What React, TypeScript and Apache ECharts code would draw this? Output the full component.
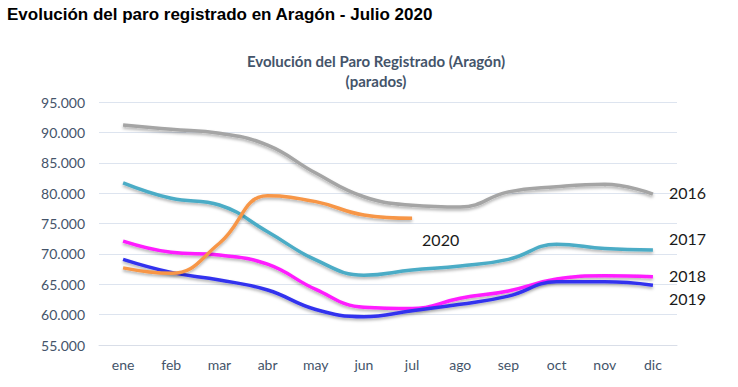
import React, { useEffect, useRef } from "react";
import * as echarts from "echarts";

const months = ["ene", "feb", "mar", "abr", "may", "jun", "jul", "ago", "sep", "oct", "nov", "dic"];
const y2016 = [91200, 90500, 89850, 87900, 83300, 79400, 78000, 77700, 80200, 81050, 81450, 79850];
const y2017 = [81700, 79150, 78050, 73650, 69000, 66500, 67350, 68000, 69100, 71600, 70900, 70650];
const y2018 = [72100, 70250, 69800, 68300, 64150, 61200, 61000, 62700, 63900, 65850, 66400, 66250];
const y2019 = [69100, 66950, 65700, 64050, 60850, 59650, 60650, 61700, 63050, 65400, 65400, 64850];
const y2020 = [67700, 66800, 71750, 79550, 78600, 76400, 75850];
const yTicks = { min: 55000, max: 95000, step: 5000 };

const fmt = (v: number) => {
  const s = String(Math.round(v));
  return s.replace(/\B(?=(\d{3})+(?!\d))/g, ".");
};

export default function App() {
  const ref = useRef<HTMLDivElement>(null);
  useEffect(() => {
    document.body.style.margin = "0";
    const chart = echarts.init(ref.current!, undefined, { renderer: "svg" });
    const mk = (name: string, data: number[], color: string, offset: number[], distance = 16) => ({
      name,
      type: "line",
      data,
      smooth: 0.45,
      symbol: "none",
      lineStyle: {
        width: 3.5,
        color,
        shadowColor: "rgba(0,0,0,0.3)",
        shadowBlur: 3,
        shadowOffsetY: 2,
      },
      endLabel: {
        show: true,
        formatter: name,
        distance,
        offset,
        color: "#1a1a1a",
        fontSize: 16,
        fontFamily: "Lato",
      },
      z: 3,
    });
    chart.setOption({
      animation: false,
      backgroundColor: "#ffffff",
      title: [
        {
          text: "Evolución del paro registrado en Aragón - Julio 2020",
          left: 2,
          top: 1,
          textStyle: { fontFamily: "Liberation Sans", fontWeight: "bold", fontSize: 17, color: "#000" },
        },
        {
          text: "Evolución del Paro Registrado (Aragón)\n(parados)",
          left: 371,
          textAlign: "center",
          top: 46,
          textStyle: {
            fontFamily: "Lato",
            fontWeight: "bold",
            fontSize: 15,
            color: "#44546a",
            lineHeight: 20,
          },
        },
      ],
      grid: { left: 99, right: 61, top: 102, bottom: 42 },
      xAxis: {
        type: "category",
        data: months,
        boundaryGap: true,
        axisLine: { lineStyle: { color: "#d9dee8", width: 1 } },
        axisTick: { show: false },
        axisLabel: { color: "#44546a", fontSize: 14, fontFamily: "Lato", margin: 12 },
      },
      yAxis: {
        type: "value",
        min: yTicks.min,
        max: yTicks.max,
        interval: yTicks.step,
        axisLine: { show: false },
        axisTick: { show: false },
        splitLine: { lineStyle: { color: "#dde4ef", width: 1 } },
        axisLabel: { color: "#44546a", fontSize: 14, fontFamily: "Lato", margin: 14, formatter: fmt },
      },
      series: [
        mk("2016", y2016, "#a5a5a5", [0, -2]),
        mk("2017", y2017, "#4bacc6", [0, -11]),
        mk("2018", y2018, "#ff1aff", [0, -1]),
        mk("2019", y2019, "#3333ee", [0, 13]),
        mk("2020", y2020, "#f79646", [10, 21], 0),
      ],
    });
    return () => chart.dispose();
  }, []);
  return <div ref={ref} style={{ width: 738, height: 387 }} />;
}
